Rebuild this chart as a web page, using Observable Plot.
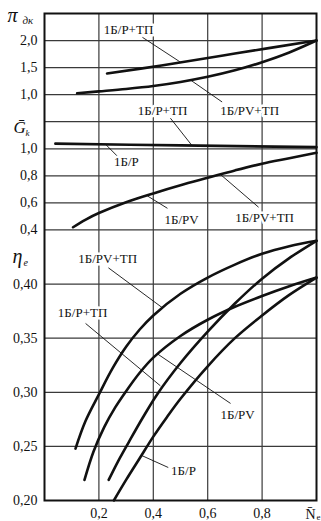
<!DOCTYPE html>
<html><head><meta charset="utf-8">
<script src="https://cdn.jsdelivr.net/npm/d3@7"></script>
<script src="https://cdn.jsdelivr.net/npm/@observablehq/plot@0.6"></script>
<style>body{margin:0;background:#fff}</style>
</head><body><div id="chart"></div>
<script>
// ---- tick values ----
const xTicks = [0.2, 0.4, 0.6, 0.8];
const piTicks = [1.0, 1.5, 2.0];
const gTicks = [0.4, 0.6, 0.8, 1.0, 1.2];
const gLabeled = [0.4, 0.6, 0.8, 1.0];
const etaTicks = [0.20, 0.25, 0.30, 0.35, 0.40, 0.45];
const etaLabeled = [0.20, 0.25, 0.30, 0.35, 0.40];

// ---- series (x = N̄e, value) ----
// π дк panel
const pi_P_TP  = [[0.23,1.39],[0.43,1.54],[0.7,1.76],[1.0,2.0]];
const pi_PV_TP = [[0.12,1.025],[0.2,1.06],[0.3,1.105],[0.4,1.16],[0.5,1.235],[0.6,1.33],[0.7,1.45],[0.8,1.6],[0.9,1.78],[1.0,2.0]];
// Ḡk panel
const g_P      = [[0.04,1.038],[0.5,1.025],[1.0,1.012]];
const g_PV     = [[0.105,0.42],[0.15,0.475],[0.2,0.525],[0.3,0.605],[0.4,0.67],[0.5,0.73],[0.6,0.785],[0.7,0.84],[0.8,0.89],[0.9,0.93],[1.0,0.97]];
// ηe panel
const eta_PV_TP = [[0.114,0.248],[0.15,0.273],[0.2,0.298],[0.25,0.322],[0.3,0.342],[0.35,0.358],[0.4,0.371],[0.5,0.391],[0.6,0.406],[0.7,0.418],[0.8,0.428],[0.9,0.435],[1.0,0.44]];
const eta_PV    = [[0.147,0.219],[0.18,0.245],[0.22,0.268],[0.26,0.286],[0.3,0.301],[0.35,0.318],[0.4,0.332],[0.5,0.352],[0.6,0.367],[0.7,0.379],[0.8,0.389],[0.9,0.398],[1.0,0.406]];
const eta_P_TP  = [[0.236,0.219],[0.27,0.236],[0.31,0.254],[0.36,0.276],[0.414,0.298],[0.5,0.327],[0.6,0.356],[0.7,0.382],[0.8,0.405],[0.9,0.424],[1.0,0.44]];
const eta_P     = [[0.255,0.20],[0.3,0.219],[0.35,0.239],[0.4,0.259],[0.45,0.277],[0.5,0.294],[0.6,0.324],[0.7,0.35],[0.8,0.371],[0.9,0.39],[1.0,0.406]];

// ---- curve labels (panel, x, value) ----
const labels = [
  {t:"1Б/Р+ТП",  p:"pi",  x:0.309, v:2.19},
  {t:"1Б/Р+ТП",  p:"g",   x:0.434, v:1.278},
  {t:"1Б/РV+ТП", p:"g",   x:0.754, v:1.278},
  {t:"1Б/Р",     p:"g",   x:0.301, v:0.90},
  {t:"1Б/РV",    p:"g",   x:0.504, v:0.478},
  {t:"1Б/РV+ТП", p:"g",   x:0.809, v:0.486},
  {t:"1Б/РV+ТП", p:"eta", x:0.232, v:0.423},
  {t:"1Б/Р+ТП",  p:"eta", x:0.14,  v:0.373},
  {t:"1Б/РV",    p:"eta", x:0.71,  v:0.2795},
  {t:"1Б/Р",     p:"eta", x:0.511, v:0.2277}
];
// leader lines: from label to curve
const leaders = [
  {p1:"pi", x1:0.36, v1:2.06,  p2:"pi", x2:0.5,  v2:1.60},
  {p1:"g",  x1:0.653,v1:1.346, p2:"pi", x2:0.537,v2:1.27},
  {p1:"g",  x1:0.463,v1:1.226, p2:"g",  x2:0.543,v2:1.022},
  {p1:"g",  x1:0.272,v1:0.937, p2:"g",  x2:0.224,v2:1.034},
  {p1:"g",  x1:0.452,v1:0.56,  p2:"g",  x2:0.378,v2:0.652},
  {p1:"g",  x1:0.787,v1:0.568, p2:"g",  x2:0.647,v2:0.81},
  {p1:"eta",x1:0.235,v1:0.415, p2:"eta",x2:0.434,v2:0.378},
  {p1:"eta",x1:0.151,v1:0.3636,p2:"eta",x2:0.426,v2:0.306},
  {p1:"eta",x1:0.684,v1:0.2897,p2:"eta",x2:0.415,v2:0.3355},
  {p1:"eta",x1:0.455,v1:0.2305,p2:"eta",x2:0.357,v2:0.2416}
];

// ---- stacked panels share one vertical scale (rows) ----
const panels = {
  pi:  {base: 15, v0: 1.0,  step: 0.5},
  g:   {base: 10, v0: 0.4,  step: 0.2},
  eta: {base: 0,  v0: 0.20, step: 0.025}
};
const row = (p, v) => panels[p].base + (v - panels[p].v0) / panels[p].step;

const toPts = (p, arr) => arr.map(([x, v]) => ({x, y: row(p, v)}));
const series = [
  toPts("pi", pi_P_TP), toPts("pi", pi_PV_TP),
  toPts("g", g_P), toPts("g", g_PV),
  toPts("eta", eta_PV_TP), toPts("eta", eta_PV), toPts("eta", eta_P_TP), toPts("eta", eta_P)
];

const tickMap = new Map();
piTicks.forEach(v => tickMap.set(row("pi", v), v.toFixed(1).replace(".", ",")));
gLabeled.forEach(v => tickMap.set(row("g", v), v.toFixed(1).replace(".", ",")));
etaLabeled.forEach(v => tickMap.set(row("eta", v), v.toFixed(2).replace(".", ",")));
const labelRows = [...tickMap.keys()];

const gridRows = Array.from(new Set([
  ...etaTicks.slice(1).map(v => row("eta", v)),
  ...gTicks.map(v => row("g", v)),
  ...piTicks.map(v => row("pi", v))
])).filter(r => r > 0 && r < 18);

const labelData = labels.map(d => ({t: d.t, x: d.x, y: row(d.p, d.v)}));
const leaderData = leaders.map(d => ({x1: d.x1, y1: row(d.p1, d.v1), x2: d.x2, y2: row(d.p2, d.v2)}));

const serif = "Liberation Serif, Times New Roman, serif";

const plot = Plot.plot({
  width: 321, height: 521,
  marginLeft: 44, marginRight: 5, marginTop: 13, marginBottom: 21,
  style: {fontFamily: serif, fontSize: "14px", background: "#fff", color: "#111"},
  x: {domain: [0, 1]},
  y: {domain: [0, 18]},
  marks: [
    Plot.gridX(xTicks, {stroke: "#3a3a3a", strokeOpacity: 1, strokeWidth: 1.2}),
    Plot.gridY(gridRows, {stroke: "#3a3a3a", strokeOpacity: 1, strokeWidth: 1.2}),
    Plot.link(leaderData, {x1: "x1", y1: "y1", x2: "x2", y2: "y2", stroke: "#111", strokeWidth: 0.9}),
    ...series.map(s => Plot.line(s, {x: "x", y: "y", stroke: "#111", strokeWidth: 2.6, curve: "catmull-rom"})),
    Plot.text(labelData, {x: "x", y: "y", text: "t", fill: "#111", stroke: "#fff", strokeWidth: 5, fontSize: 13, fontFamily: serif}),
    Plot.frame({stroke: "#111", strokeWidth: 2}),
    Plot.axisX(xTicks, {tickSize: 0, tickPadding: 8, tickFormat: d => d.toFixed(1).replace(".", ","), fontSize: 14, label: null}),
    Plot.axisY(labelRows, {tickSize: 0, tickPadding: 7, tickFormat: d => tickMap.get(d), fontSize: 14, label: null}),
    // axis symbols
    Plot.text([{x: 0, y: 17.92}], {x: "x", y: "y", text: () => "π", dx: -37, textAnchor: "start", fontSize: 20, fontStyle: "italic", fontFamily: serif}),
    Plot.text([{x: 0, y: 17.75}], {x: "x", y: "y", text: () => "дк", dx: -22, textAnchor: "start", fontSize: 11, fontStyle: "italic", fontFamily: serif}),
    Plot.text([{x: 0, y: 13.8}], {x: "x", y: "y", text: () => "Ḡ", dx: -31, textAnchor: "start", fontSize: 17, fontStyle: "italic", fontFamily: serif}),
    Plot.text([{x: 0, y: 13.58}], {x: "x", y: "y", text: () => "k", dx: -19, textAnchor: "start", fontSize: 9, fontStyle: "italic", fontFamily: serif}),
    Plot.text([{x: 0, y: 9.0}], {x: "x", y: "y", text: () => "η", dx: -32, textAnchor: "start", fontSize: 20, fontStyle: "italic", fontFamily: serif}),
    Plot.text([{x: 0, y: 8.78}], {x: "x", y: "y", text: () => "e", dx: -21, textAnchor: "start", fontSize: 10, fontStyle: "italic", fontFamily: serif}),
    Plot.text([{x: 1, y: 0}], {x: "x", y: "y", text: () => "N\u0304", dx: -6, dy: 14, fontSize: 14, fontFamily: serif}),
    Plot.text([{x: 1, y: 0}], {x: "x", y: "y", text: () => "e", dx: 2, dy: 17, fontSize: 9, fontFamily: serif})
  ]
});
document.getElementById("chart").appendChild(plot);
</script>
</body></html>
